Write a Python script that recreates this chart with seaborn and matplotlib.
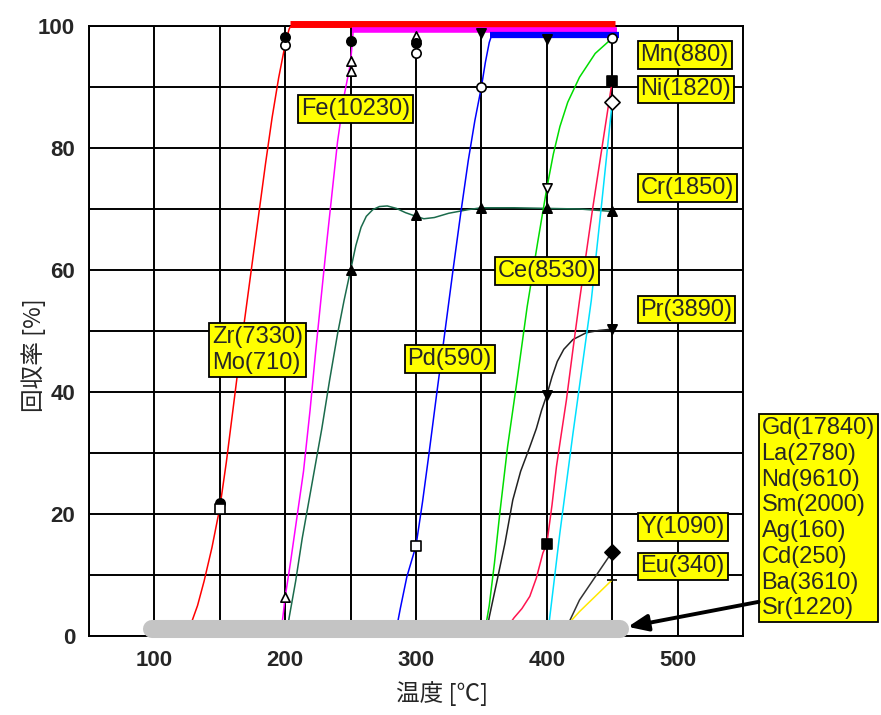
import matplotlib
matplotlib.use("Agg")
import matplotlib.pyplot as plt
import seaborn as sns
import pandas as pd

# ---------------- data ----------------
zr_x = [123, 128, 133, 138, 144, 150, 155, 160, 165, 170, 175, 180, 185, 190, 195, 200, 203, 205]
zr_y = [0, 2, 5, 9, 14.5, 21, 28.5, 37, 45.5, 53.5, 61.5, 69.5, 77.5, 85, 91.5, 97, 99.5, 100.3]

fe_x = [196.5, 200, 204, 209, 214, 219, 223, 227, 232, 236, 240, 245, 250, 252]
fe_y = [0, 6.4, 12, 19.5, 27, 37, 46, 54.5, 65, 73, 81, 88.5, 94, 99.3]

cr_x = [201, 203, 208, 213, 218, 223, 228, 234, 240, 245, 250, 254, 258, 262, 267, 272,
        278, 285, 292, 300, 306, 314, 325, 340, 350, 375, 400, 425, 450]
cr_y = [0, 3, 9, 16, 22, 28, 34, 42, 49.5, 55, 60, 64, 67, 68.8, 69.9, 70.4,
        70.5, 70.1, 69.4, 68.8, 68.4, 68.6, 69.3, 69.9, 70.2, 70.2, 70.1, 70, 69.6]

pd_x = [284, 288, 293, 300, 305, 310, 316, 322, 328, 334, 340, 345, 350, 353, 356, 358]
pd_y = [0, 4.5, 9.7, 14.8, 22, 30, 40, 49.7, 59.5, 69, 78, 84.5, 90, 94, 97.3, 98.6]

ce_x = [352, 354, 356, 360, 364, 370, 377, 385, 393, 400, 405, 410, 416, 425, 437, 450]
ce_y = [0, 2.5, 5, 12, 20, 31, 41.5, 54, 64.5, 73.4, 79, 83.5, 87.5, 91.6, 95.5, 98]

pr_x = [353.5, 356, 361.6, 368, 374, 380, 387, 392, 396, 400, 404, 408, 413, 420, 430, 440, 450]
pr_y = [0, 3.1, 8.7, 15.2, 22.3, 27, 31, 34, 37, 39.5, 42.5, 45, 47, 48.6, 49.7, 50.1, 50.3]

ni_x = [366, 370, 375, 381, 387, 392, 397, 400, 404, 407.4, 411, 415, 420, 425, 430, 435, 440, 445, 450]
ni_y = [0, 1.5, 3, 4.5, 6.5, 9.5, 13.6, 15.1, 21.5, 27.8, 33, 38.7, 47, 55, 62.5, 70, 77, 84, 91]

cy_x = [400, 402, 410, 420, 434, 442, 450]
cy_y = [0, 2.6, 16.9, 33.2, 55, 71, 87.5]

yy_x = [412, 425, 450]
yy_y = [0, 5.9, 13.8]

eu_x = [416, 419, 425, 450]
eu_y = [0, 2.6, 4, 9.2]

# plateau bars near 100 %
bar_red_x, bar_red_y = [204, 452], [100.3, 100.3]
bar_mag_x, bar_mag_y = [251, 454], [99.3, 99.3]
bar_blu_x, bar_blu_y = [356.5, 455], [98.6, 98.6]
# grey bar near 0 %
bar_gray_x, bar_gray_y = [98, 456], [1.1, 1.1]

# markers
mk_x = [150, 150, 200, 200, 200, 250, 250, 250, 250, 300, 300, 300, 300, 300,
        350, 350, 350, 400, 400, 400, 400, 400, 450, 450, 450, 450, 450, 450, 450]
mk_y = [21.8, 20.8, 98.2, 96.9, 6.4, 97.6, 94.3, 92.6, 60, 98.4, 97.2, 95.5, 69, 14.8,
        98.8, 90, 70.2, 97.9, 73.4, 70.1, 39.5, 15.1, 98, 91, 87.5, 69.6, 50.3, 13.8, 9.2]
mk_shape = ['o', 's', 'o', 'o', '^', 'o', '^', '^', '^', '^', 'o', 'o', '^', 's',
            'v', 'o', '^', 'v', 'v', '^', 'v', 's', 'o', 's', 'D', '^', 'v', 'D', '_']
mk_filled = [1, 0, 1, 0, 0, 1, 0, 0, 1, 0, 1, 0, 1, 0,
             1, 0, 1, 1, 0, 1, 1, 1, 0, 1, 0, 1, 1, 1, 1]

label_texts = ['Fe(10230)', 'Zr(7330)\nMo(710)', 'Pd(590)', 'Ce(8530)', 'Mn(880)',
               'Ni(1820)', 'Cr(1850)', 'Pr(3890)', 'Y(1090)', 'Eu(340)',
               'Gd(17840)\nLa(2780)\nNd(9610)\nSm(2000)\nAg(160)\nCd(250)\nBa(3610)\nSr(1220)']

x_ticks = [50, 100, 150, 200, 250, 300, 350, 400, 450, 500, 550]
x_ticklabels = ['', '100', '', '200', '', '300', '', '400', '', '500', '']
y_ticks = [0, 10, 20, 30, 40, 50, 60, 70, 80, 90, 100]
y_ticklabels = ['0', '', '20', '', '40', '', '60', '', '80', '', '100']

# ---------------- layout ----------------
label_pos = [(209, 86.4), (140.7, 46.9), (290.3, 45.4), (359.5, 59.8), (468.4, 95.2),
             (468.4, 89.6), (468.4, 73.4), (468.4, 53.5), (468.4, 17.9), (468.4, 11.4),
             (561, 19.3)]

sns.set_style("white")
plt.rcParams['font.family'] = ['Liberation Sans', 'DejaVu Sans']

fig = plt.figure(figsize=(8.81, 7.15), dpi=100)
ax = fig.add_axes([89 / 881, 1 - 636 / 715, (743 - 89) / 881, (636 - 26) / 715])
ax.set_xlim(50, 550)
ax.set_ylim(0, 100)

curves = [
    (zr_x, zr_y, '#ff0000'),
    (fe_x, fe_y, '#ff00ff'),
    (cr_x, cr_y, '#1b6b4c'),
    (pd_x, pd_y, '#0000ff'),
    (ce_x, ce_y, '#00dd00'),
    (pr_x, pr_y, '#222222'),
    (ni_x, ni_y, '#ff1450'),
    (cy_x, cy_y, '#00e0ff'),
    (yy_x, yy_y, '#333333'),
    (eu_x, eu_y, '#ffe800'),
]
for xs, ys, col in curves:
    sns.lineplot(x=xs, y=ys, ax=ax, color=col, lw=1.1, sort=False, estimator=None, zorder=3)

for xs, ys, col, lw in [(bar_red_x, bar_red_y, '#ff0000', 5.0),
                        (bar_mag_x, bar_mag_y, '#ff00ff', 4.0),
                        (bar_blu_x, bar_blu_y, '#0000ff', 4.5)]:
    ax.plot(xs, ys, color=col, lw=lw, solid_capstyle='butt', clip_on=False, zorder=4)

ax.plot(bar_gray_x, bar_gray_y, color='#c4c4c4', lw=13, solid_capstyle='round',
        clip_on=False, zorder=5)

# markers
mdf = pd.DataFrame(dict(x=mk_x, y=mk_y, m=mk_shape, f=mk_filled))
for (m, f), g in mdf.groupby(['m', 'f']):
    size = 45 if m != '_' else 60
    if m == 'D':
        size = 60
    ax.scatter(g['x'], g['y'], marker=m, s=size,
               facecolor='black' if f else 'white', edgecolor='black',
               linewidth=1.2, zorder=6, clip_on=False)

# grid
ax.set_xticks(x_ticks)
ax.set_xticklabels(x_ticklabels)
ax.set_yticks(y_ticks)
ax.set_yticklabels(y_ticklabels)
ax.grid(True, color='black', lw=1.4, zorder=1)
ax.set_axisbelow(True)
for s in ax.spines.values():
    s.set_color('black')
    s.set_linewidth(1.4)
ax.tick_params(length=0, labelsize=16, pad=10)
for t in ax.get_xticklabels() + ax.get_yticklabels():
    t.set_fontweight('bold')

ax.set_xlabel('温度 [℃]', family=['Noto Sans CJK JP', 'DejaVu Sans'], fontsize=17)
ax.set_ylabel('回収率 [%]', family=['Noto Sans CJK JP', 'DejaVu Sans'], fontsize=17)
ax.xaxis.set_label_coords(0.54, -0.074)
ax.yaxis.set_label_coords(-0.066, 0.46)

# labels
for txt, (lx, ly) in zip(label_texts, label_pos):
    ax.annotate(txt, xy=(lx, ly), xytext=(3, 0), textcoords='offset points',
                ha='left', va='center', fontsize=17, linespacing=1.22,
                bbox=dict(boxstyle='square,pad=0.12', fc='#ffff00', ec='black', lw=1.3),
                zorder=8, annotation_clip=False)

# arrow to grey bar
ax.annotate('', xy=(462, 1.5), xytext=(562, 5.6),
            arrowprops=dict(arrowstyle='-|>,head_length=1.2,head_width=0.5', lw=2.8,
                            color='black', shrinkA=0, shrinkB=0),
            annotation_clip=False, zorder=9)

fig.savefig('out.png', dpi=100)
